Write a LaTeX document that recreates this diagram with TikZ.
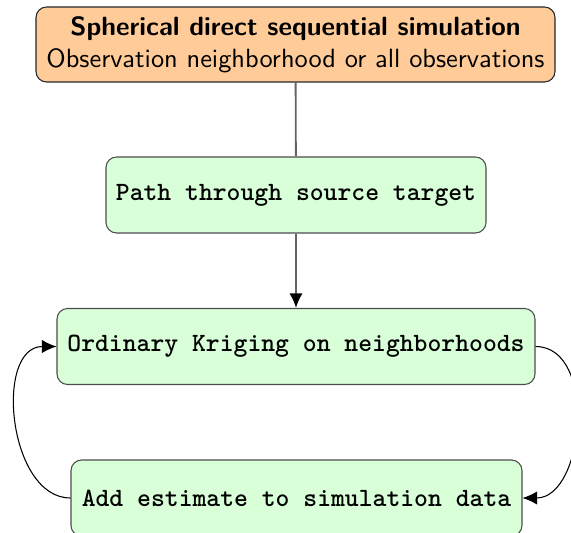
\documentclass[tikz,border=0pt]{standalone}
\usetikzlibrary{arrows.meta}
\definecolor{topfill}{RGB}{255,204,153}
\definecolor{boxfill}{RGB}{217,255,217}
\definecolor{linegray}{RGB}{100,100,100}
\begin{document}
\begin{tikzpicture}[x=0.379pt,y=-0.379pt,
  topbox/.style={draw=black!85, fill=topfill, rounded corners=4pt, align=center,
    minimum width=519*0.379pt, minimum height=75*0.379pt, inner sep=0pt, font=\sffamily},
  stepbox/.style={draw=black!70, fill=boxfill, rounded corners=4pt,
    minimum height=76*0.379pt, inner sep=0pt, font=\ttfamily\bfseries},
  vline/.style={draw=linegray, line width=0.7pt},
  loopline/.style={draw=black, line width=0.4pt, -{Latex[length=5.5pt,width=5pt]}}
]
\useasboundingbox (0,0) rectangle (571,533);
\node[topbox] (top) at (295.5,44.5) {\textbf{Spherical direct sequential simulation}\\Observation neighborhood or all observations};
\node[stepbox, minimum width=380*0.379pt] (path) at (296,195) {Path through source target};
\node[stepbox, minimum width=478*0.379pt] (ok) at (296,346.5) {Ordinary Kriging on neighborhoods};
\node[stepbox, minimum width=451*0.379pt] (add) at (296.5,498) {Add estimate to simulation data};
\draw[vline] (top) -- (path);
\draw[vline, -{Latex[length=5.5pt,width=5pt,fill=black,color=black]}] (path) -- (ok);
\draw[loopline] (add.west) to[out=180,in=180,looseness=1.05] (ok.west);
\draw[loopline] (ok.east) to[out=0,in=0,looseness=1.05] (add.east);
\end{tikzpicture}
\end{document}
